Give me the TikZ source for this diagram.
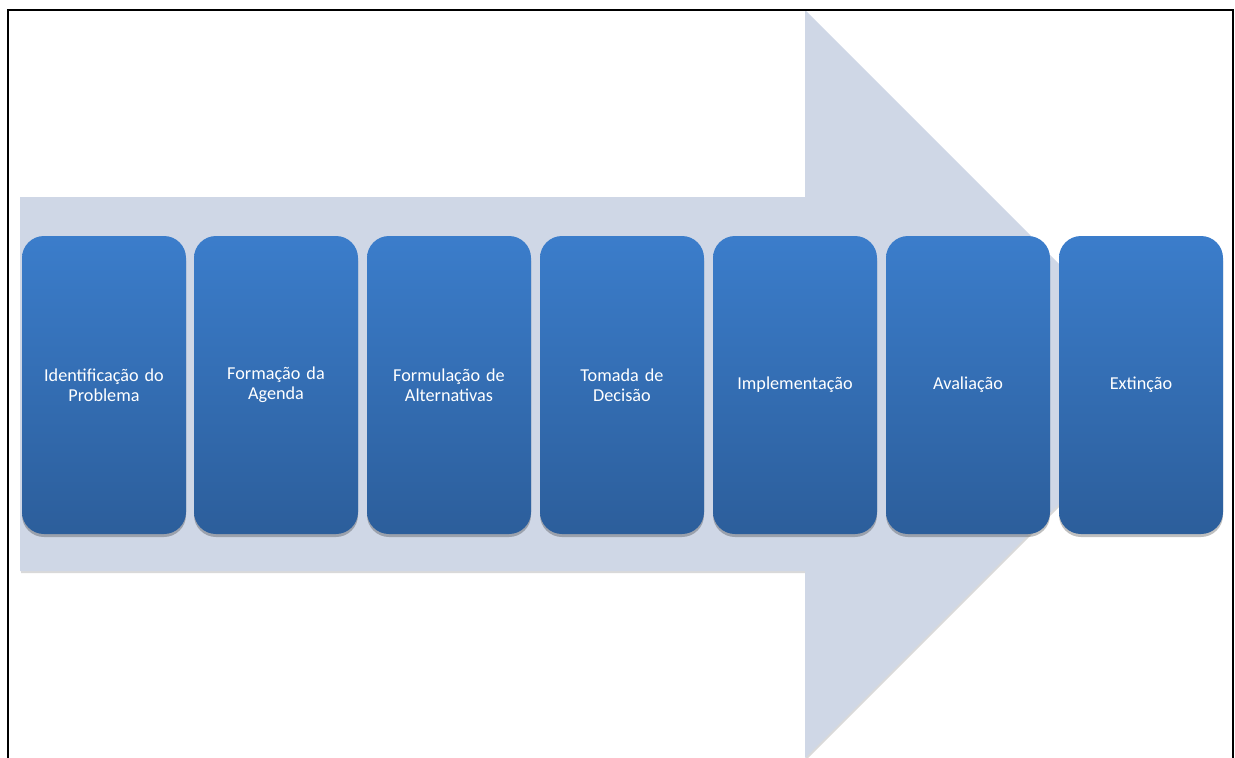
\documentclass[tikz,border=0pt]{standalone}
\usepackage{fontspec}
\setmainfont{Carlito}
\usetikzlibrary{shadows}
\definecolor{arrowfill}{RGB}{207,215,230}
\definecolor{boxtop}{RGB}{59,125,203}
\definecolor{boxbot}{RGB}{44,94,155}
\begin{document}
\begin{tikzpicture}[x=1pt,y=-1pt,
  stagebox/.style={rounded corners=22pt, minimum width=164pt, minimum height=298pt,
    top color=boxtop, bottom color=boxbot, draw=none, text=white, align=center,
    text width=158pt, inner sep=0pt,
    font=\fontsize{18.2}{20}\selectfont,
    drop shadow={shadow xshift=0pt, shadow yshift=-3pt, opacity=0.25, fill=black}},
  framestyle/.style={line width=2pt, black}]
\useasboundingbox (0,0) rectangle (1235,758);
\begin{scope}
\clip (0,0) rectangle (1235,758);
\fill[black, opacity=0.15] (21,199) -- (806,199) -- (806,12) -- (1180,386) -- (806,760) -- (806,573) -- (21,573) -- cycle;
\fill[arrowfill] (20,197) -- (805,197) -- (805,10) -- (1179,384) -- (805,758) -- (805,571) -- (20,571) -- cycle;
\end{scope}
\node[stagebox] (s1) at (104,385) {Identificação do\\Problema};
\node[stagebox] (s2) at (276,385) {Formação da\\Agenda};
\node[stagebox] (s3) at (449,385) {Formulação de\\Alternativas};
\node[stagebox] (s4) at (622,385) {Tomada de\\Decisão};
\node[stagebox] (s5) at (795,385) {Implementação};
\node[stagebox] (s6) at (968,385) {Avaliação};
\node[stagebox] (s7) at (1141,385) {Extinção};
\draw[framestyle] (8,759) -- (8,10) -- (1233,10) -- (1233,759);
\end{tikzpicture}
\end{document}
